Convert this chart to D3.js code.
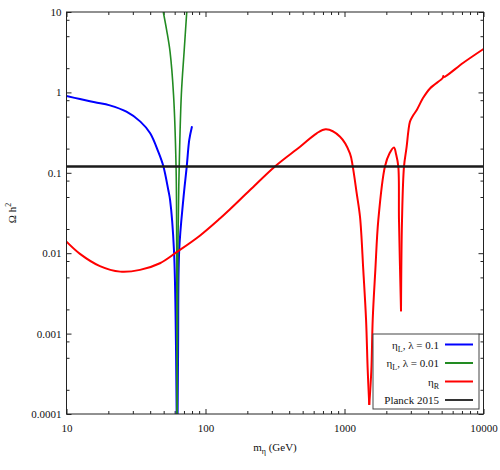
<!DOCTYPE html>
<html>
<head>
<meta charset="utf-8">
<script src="https://cdn.jsdelivr.net/npm/d3@7"></script>
<style>
  body { margin: 0; background: #fff; }
  svg { font-family: "Liberation Serif", "DejaVu Serif", serif; }
</style>
</head>
<body>
<svg id="chart"></svg>
<script>
// relic density vs mass
var massBlue = [10, 12.5, 16, 20.5, 27, 34, 40, 45.7, 49.8, 54, 55.6, 59.3, 61.4, 62.5, 63.5, 64.7, 69.2, 73.3, 76.4, 80]
var omegaBlue = [0.90, 0.827, 0.753, 0.69, 0.575, 0.433, 0.31, 0.183, 0.12, 0.061, 0.046, 0.011, 0.0006, 0.00001, 0.0006, 0.011, 0.046, 0.12, 0.256, 0.38]

var massGreen = [49.7, 52.5, 55.6, 58.9, 61.4, 62.1, 62.5, 63.2, 64.7, 67, 70.3, 73.3]
var omegaGreen = [10, 6.0, 3.2, 0.93, 0.12, 0.01, 0.00001, 0.01, 0.12, 0.93, 3.37, 10]

var massRed = [10, 12.5, 17.4, 24.3, 33.8, 47, 62, 91, 127, 150, 209, 316, 479, 631, 736, 929, 1094, 1146, 1225, 1294, 1365, 1429, 1469, 1507,
    1560, 1596, 1667, 1751, 1954, 2110, 2270, 2350, 2438, 2466, 2550,
    2593, 2680, 2800, 2880, 2958, 3100, 3303, 3671, 4120, 5100, 5140, 5180, 7160, 10000]
var omegaRed = [0.0139, 0.0098, 0.0069, 0.0059, 0.0062, 0.0075, 0.0103, 0.0165, 0.027, 0.0352, 0.061, 0.12, 0.211, 0.31, 0.347, 0.281, 0.175, 0.12, 0.055, 0.028, 0.0062, 0.0015, 0.00035, 0.00013,
    0.00035, 0.0015, 0.0062, 0.026, 0.12, 0.175, 0.207, 0.17, 0.12, 0.026, 0.0019,
    0.026, 0.12, 0.211, 0.33, 0.433, 0.51, 0.60, 0.85, 1.12, 1.52, 1.60, 1.55, 2.34, 3.47]

// resonance dips (where the curve has a cusp)
var cuspBlue = [62.5]
var cuspGreen = [62.5]
var cuspRed = [1507, 2550]

var planck = 0.12

var xMajor = [10, 100, 1000, 10000]
var xTickLabels = ["10", "100", "1000", "10000"]
var yMajor = [0.0001, 0.001, 0.01, 0.1, 1, 10]
var yTickLabels = ["0.0001", "0.001", "0.01", "0.1", "1", "10"]
var yMinorSteps = [2, 5, 8]

var legendNames = [["η", "L", ", λ = 0.1"], ["η", "L", ", λ = 0.01"], ["η", "R", ""], ["Planck 2015", "", ""]]
var legendColors = ["#0000ff", "#228b22", "#ff0000", "#333333"]

var svgWidth = 500, svgHeight = 470
var plotL = 66.5, plotR = 483.5, plotT = 12, plotB = 414

var svg = d3.select('#chart')
    .attr('width', svgWidth)
    .attr('height', svgHeight)

var x = d3.scaleLog().domain([10, 10000]).range([plotL, plotR])
var y = d3.scaleLog().domain([0.0001, 10]).range([plotB, plotT])

// minor tick values
var xMinor = []
xMajor.slice(0, 3).forEach(function(d) {
    for (var k = 2; k <= 9; k++) xMinor.push(d * k)
})
var yMinor = []
yMajor.slice(0, 5).forEach(function(d) {
    yMinorSteps.forEach(function(k) { yMinor.push(d * k) })
})

function styleAxis(g) {
    g.attr('font-family', '"Liberation Serif", serif')
    g.select('.domain').remove()
    g.selectAll('line').attr('stroke', '#222').attr('stroke-width', 1)
    g.selectAll('text').attr('font-size', 11).attr('fill', '#111')
}

// bottom + top
svg.append('g').attr('transform', 'translate(0,' + plotB + ')')
    .call(d3.axisBottom(x).tickValues(xMajor).tickSize(-5).tickPadding(10)
        .tickFormat(function(d, i) { return xTickLabels[i] }))
    .call(styleAxis)
svg.append('g').attr('transform', 'translate(0,' + plotB + ')')
    .call(d3.axisBottom(x).tickValues(xMinor).tickSize(-3).tickFormat(''))
    .call(styleAxis)
svg.append('g').attr('transform', 'translate(0,' + plotT + ')')
    .call(d3.axisTop(x).tickValues(xMajor).tickSize(-5).tickFormat(''))
    .call(styleAxis)
svg.append('g').attr('transform', 'translate(0,' + plotT + ')')
    .call(d3.axisTop(x).tickValues(xMinor).tickSize(-3).tickFormat(''))
    .call(styleAxis)

// left + right
svg.append('g').attr('transform', 'translate(' + plotL + ',0)')
    .call(d3.axisLeft(y).tickValues(yMajor).tickSize(-5).tickPadding(5)
        .tickFormat(function(d, i) { return yTickLabels[i] }))
    .call(styleAxis)
svg.append('g').attr('transform', 'translate(' + plotL + ',0)')
    .call(d3.axisLeft(y).tickValues(yMinor).tickSize(-3).tickFormat(''))
    .call(styleAxis)
svg.append('g').attr('transform', 'translate(' + plotR + ',0)')
    .call(d3.axisRight(y).tickValues(yMajor).tickSize(-5).tickFormat(''))
    .call(styleAxis)
svg.append('g').attr('transform', 'translate(' + plotR + ',0)')
    .call(d3.axisRight(y).tickValues(yMinor).tickSize(-3).tickFormat(''))
    .call(styleAxis)

svg.append('clipPath').attr('id', 'plotclip')
    .append('rect')
    .attr('x', plotL).attr('y', plotT)
    .attr('width', plotR - plotL).attr('height', plotB - plotT)

var line = d3.line()
    .x(function(d) { return x(d[0]) })
    .y(function(d) { return y(d[1]) })
    .curve(d3.curveCatmullRom.alpha(0.5))

var curves = svg.append('g').attr('clip-path', 'url(#plotclip)')

// split at the cusps so the dips stay sharp, smooth in between
function drawCurve(ms, vals, cusps, color, w) {
    var pts = d3.zip(ms, vals)
    var pieces = [[]]
    pts.forEach(function(p) {
        pieces[pieces.length - 1].push(p)
        if (cusps.indexOf(p[0]) >= 0) pieces.push([p])
    })
    pieces.forEach(function(seg) {
        curves.append('path')
            .datum(seg)
            .attr('d', line)
            .attr('fill', 'none')
            .attr('stroke', color)
            .attr('stroke-width', w)
            .attr('stroke-linejoin', 'round')
    })
}

drawCurve(massBlue, omegaBlue, cuspBlue, legendColors[0], 2)
drawCurve(massGreen, omegaGreen, cuspGreen, legendColors[1], 1.6)
drawCurve(massRed, omegaRed, cuspRed, legendColors[2], 2)

// Planck 2015 line
curves.append('line')
    .attr('x1', plotL).attr('x2', plotR)
    .attr('y1', y(planck)).attr('y2', y(planck))
    .attr('stroke', '#1a1a1a')
    .attr('stroke-width', 2.5)

// frame
svg.append('rect')
    .attr('x', plotL).attr('y', plotT)
    .attr('width', plotR - plotL).attr('height', plotB - plotT)
    .attr('fill', 'none')
    .attr('stroke', '#222')
    .attr('stroke-width', 1)

// legend
var legend = svg.append('g')
legend.append('rect')
    .attr('x', 373).attr('y', 334)
    .attr('width', 106).attr('height', 75)
    .attr('fill', '#fff')
    .attr('stroke', '#444')
    .attr('stroke-width', 1)

var rowY = [344.5, 363, 381.5, 400]
legendNames.forEach(function(n, i) {
    var t = legend.append('text')
        .attr('x', 439).attr('y', rowY[i] + 4)
        .attr('text-anchor', 'end')
        .attr('font-size', 11)
        .attr('fill', '#111')
    t.append('tspan').text(n[0])
    if (n[1]) t.append('tspan').attr('font-size', 8).attr('dy', 3).text(n[1])
    if (n[2]) t.append('tspan').attr('dy', -3).text(n[2])
    legend.append('line')
        .attr('x1', 445).attr('x2', 473)
        .attr('y1', rowY[i]).attr('y2', rowY[i])
        .attr('stroke', legendColors[i])
        .attr('stroke-width', 2)
})

// axis titles
var xt = svg.append('text')
    .attr('x', (plotL + plotR) / 2).attr('y', 451)
    .attr('text-anchor', 'middle')
    .attr('font-size', 11)
    .attr('fill', '#111')
xt.append('tspan').text('m')
xt.append('tspan').attr('font-size', 8).attr('dy', 3).text('η')
xt.append('tspan').attr('dy', -3).text(' (GeV)')

var yt = svg.append('text')
    .attr('transform', 'translate(16,' + (plotT + plotB) / 2 + ') rotate(-90)')
    .attr('text-anchor', 'middle')
    .attr('font-size', 11)
    .attr('fill', '#111')
yt.append('tspan').text('Ω h')
yt.append('tspan').attr('font-size', 8).attr('dy', -5).text('2')
</script>
</body>
</html>
